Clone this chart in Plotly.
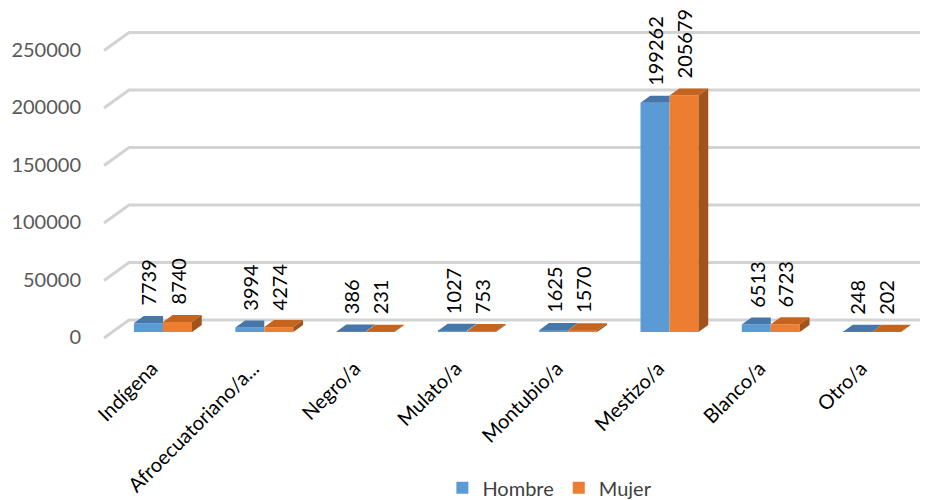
import plotly.graph_objects as go

categories = ["Indígena", "Afroecuatoriano/a...", "Negro/a", "Mulato/a", "Montubio/a",
              "Mestizo/a", "Blanco/a", "Otro/a"]
hombre = [7739, 3994, 386, 1027, 1625, 199262, 6513, 248]
mujer = [8740, 4274, 231, 753, 1570, 205679, 6723, 202]
y_ticks = [0, 50000, 100000, 150000, 200000, 250000]

FONT = "Lato"
BLUE, ORANGE = "#5B9BD5", "#ED7D31"
BLUE_TOP, ORANGE_TOP, ORANGE_SIDE = "#4677A8", "#C4641F", "#A2531B"

# pixel scales of the plot (for depth offsets expressed in data units)
PX_PER_CAT = 101.3
PX_PER_VAL = 57.5 / 50000
W = 0.2863                      # bar width in category units
DEPTH_DX = 25 / PX_PER_CAT      # full floor depth, x component (data units)
DEPTH_DY = 18 / PX_PER_VAL      # full floor depth, y component (data units)
BAR_DEPTH = 0.39                # fraction of floor depth taken by bars

idx = list(range(len(categories)))
xb = [i - W / 2 for i in idx]
xo = [i + W / 2 for i in idx]

fig = go.Figure()
fig.add_trace(go.Bar(x=xb, y=hombre, width=W, name="Hombre",
                     marker=dict(color=BLUE, line=dict(width=0))))
fig.add_trace(go.Bar(x=xo, y=mujer, width=W, name="Mujer",
                     marker=dict(color=ORANGE, line=dict(width=0))))

bdx = BAR_DEPTH * DEPTH_DX
bdy = BAR_DEPTH * DEPTH_DY

# 3D top / side faces
bt_x, bt_y, ot_x, ot_y, os_x, os_y = [], [], [], [], [], []
for i, hb, mj in zip(idx, hombre, mujer):
    x0, x1, x2 = i - W, i, i + W
    if mj >= hb:
        bt_x += [x0, x1, x1, x0 + bdx, x0, None]
        bt_y += [hb, hb, hb + bdy, hb + bdy, hb, None]
    else:
        bt_x += [x0, x1, x1 + bdx, x0 + bdx, x0, None]
        bt_y += [hb, hb, hb + bdy, hb + bdy, hb, None]
    ot_x += [x1, x2, x2 + bdx, x1 + bdx, x1, None]
    ot_y += [mj, mj, mj + bdy, mj + bdy, mj, None]
    os_x += [x2, x2, x2 + bdx, x2 + bdx, x2, None]
    os_y += [0, mj, mj + bdy, bdy, 0, None]

for fx, fy, col in [(bt_x, bt_y, BLUE_TOP), (ot_x, ot_y, ORANGE_TOP), (os_x, os_y, ORANGE_SIDE)]:
    fig.add_trace(go.Scatter(x=fx, y=fy, mode="lines", fill="toself", fillcolor=col,
                             line=dict(width=0, color=col), showlegend=False,
                             hoverinfo="skip"))

# gridlines (3D wall + floor edge) as shapes below traces
x_front = -0.5 - DEPTH_DX / 3
x_back = -0.5 + DEPTH_DX * 2 / 3
shapes = []
for g in y_ticks:
    yf = g - DEPTH_DY / 3
    yk = g + DEPTH_DY * 2 / 3
    shapes.append(dict(type="path", xref="x", yref="y", layer="below",
                       path=f"M {x_front},{yf} L {x_back},{yk} L 9,{yk}",
                       line=dict(color="#D3D3D3", width=3)))

annotations = []
for xs, vals in [(xb, hombre), (xo, mujer)]:
    for x, v in zip(xs, vals):
        annotations.append(dict(x=x, y=v, xref="x", yref="y", text=str(v),
                                textangle=-90, showarrow=False, xanchor="center",
                                yanchor="bottom", yshift=15,
                                font=dict(family=FONT, size=20, color="#000000")))

# the page body adds an 8px offset; the figure fills the rest of the window
fig.update_layout(
    width=920, height=492,
    margin=dict(l=87, r=0, t=12, b=159, autoexpand=False),
    paper_bgcolor="white", plot_bgcolor="white",
    barmode="overlay",
    shapes=shapes, annotations=annotations,
    showlegend=True,
    legend=dict(orientation="h", xref="container", yref="container",
                x=0.589, xanchor="center", y=0.025, yanchor="middle",
                itemwidth=30,
                font=dict(family=FONT, size=20, color="#404040")),
    xaxis=dict(range=[(95 - 163) / PX_PER_CAT, (928 - 163) / PX_PER_CAT],
               tickvals=idx, ticktext=categories, tickangle=-45,
               ticks="outside", ticklen=7, tickcolor="rgba(0,0,0,0)",
               ticklabelshift=-11,
               automargin=False,
               showgrid=False, zeroline=False, showline=False,
               tickfont=dict(family=FONT, size=20, color="#000000")),
    yaxis=dict(range=[(332 - 341) / PX_PER_VAL, (332 - 20) / PX_PER_VAL],
               tickvals=y_ticks, ticktext=[str(t) for t in y_ticks],
               ticks="outside", ticklen=9, tickcolor="rgba(0,0,0,0)",
               ticklabelshift=5, automargin=False,
               showgrid=False, zeroline=False, showline=False,
               tickfont=dict(family=FONT, size=20, color="#595959")),
)

fig.write_html("out.html")
